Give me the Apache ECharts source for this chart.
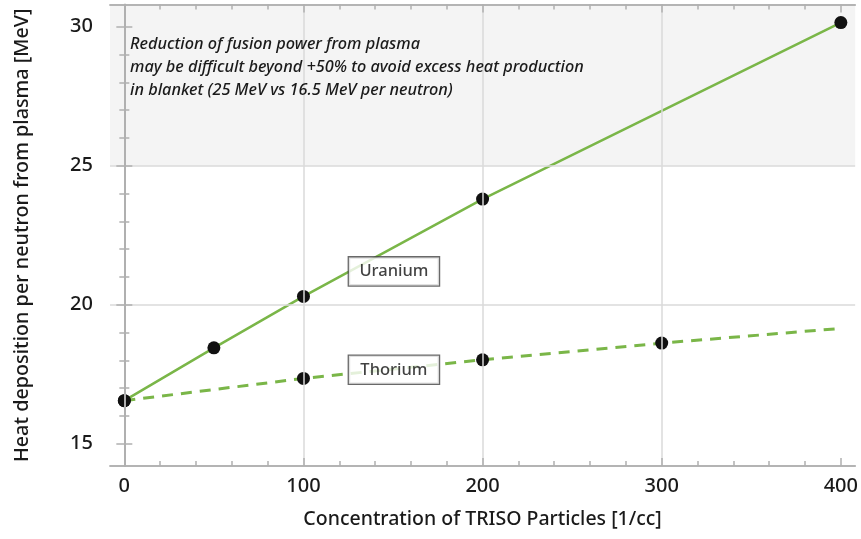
<!DOCTYPE html>
<html>
<head>
<meta charset="utf-8">
<script src="https://cdn.jsdelivr.net/npm/echarts@6/dist/echarts.min.js"></script>
<style>html,body{margin:0;padding:0;background:#fff}#c{width:861px;height:539px}</style>
</head>
<body>
<div id="c"></div>
<script>
const uraniumX = [0, 50, 100, 200, 400];
const uraniumY = [16.55, 18.45, 20.3, 23.8, 30.15];
const thoriumX = [0, 100, 200, 300, 400];
const thoriumY = [16.55, 17.35, 18.02, 18.62, 19.15];
const thoriumMarked = [true, true, true, true, false];
const xMajor = [0, 100, 200, 300, 400];
const xMinor = [20, 40, 60, 80, 120, 140, 160, 180, 220, 240, 260, 280, 320, 340, 360, 380];
const yMajor = [15, 20, 25, 30];
const yMinor = [16, 17, 18, 19, 21, 22, 23, 24, 26, 27, 28, 29];
const xGrid = [100, 200, 300];
const yGrid = [20, 25];
const bandFrom = 25;
const seriesLabels = [[150.5, 21.2, 'Uranium'], [150.5, 17.66, 'Thorium']];
const note = ['Reduction of fusion power from plasma',
  'may be difficult beyond +50% to avoid excess heat production',
  'in blanket (25 MeV vs 16.5 MeV per neutron)'];

const FONT = 'Noto Sans';
const TXT = '#1a1a1a';
const XMIN = -8, XMAX = 408, YMIN = 14.2, YMAX = 30.8;
const axisColor = '#b0b0b0';

function xAx(pos, ticks, len, labels) {
  return {
    type: 'value', position: pos, min: XMIN, max: XMAX, z: 5,
    axisLine: {show: true, lineStyle: {color: axisColor, width: 1.5}},
    axisTick: {show: true, inside: true, length: len, customValues: ticks, lineStyle: {color: axisColor, width: 1.5}},
    axisLabel: labels ? {show: true, customValues: ticks, color: TXT, fontSize: 20, fontWeight: 500, fontFamily: FONT, margin: 10} : {show: false},
    splitLine: {show: false}
  };
}
function yAx(pos, ticks, len, labels) {
  return {
    type: 'value', position: pos, min: YMIN, max: YMAX, z: 5,
    axisLine: {show: true, lineStyle: {color: axisColor, width: 1.5}},
    axisTick: {show: true, inside: true, length: len, customValues: ticks, lineStyle: {color: axisColor, width: 1.5}},
    axisLabel: labels ? {show: true, customValues: ticks, color: TXT, fontSize: 20, fontWeight: 500, fontFamily: FONT, margin: 17} : {show: false},
    splitLine: {show: false}
  };
}

const xAxes = [xAx('bottom', xMajor, 8, true), xAx('bottom', xMinor, 5, false), xAx('top', xMajor, 8, false), xAx('top', xMinor, 5, false)];
xAxes[0].name = 'Concentration of TRISO Particles [1/cc]';
xAxes[0].nameLocation = 'middle';
xAxes[0].nameGap = 43;
xAxes[0].nameTextStyle = {fontSize: 19.5, fontWeight: 500, color: TXT, fontFamily: FONT};
const yAxes = [yAx('left', yMajor, 8, true), yAx('left', yMinor, 5, false), yAx('right', yMajor, 8, false), yAx('right', yMinor, 5, false)];
yAxes[0].name = 'Heat deposition per neutron from plasma [MeV]';
yAxes[0].nameLocation = 'middle';
yAxes[0].nameGap = 78;
yAxes[0].nameTextStyle = {fontSize: 19.8, fontWeight: 500, color: TXT, fontFamily: FONT};

const green = '#7ab648';
const chart = echarts.init(document.getElementById('c'), null, {renderer: 'canvas'});
chart.setOption({
  animation: false,
  backgroundColor: '#fff',
  grid: {left: 110, right: 5, top: 4.5, bottom: 73, containLabel: false},
  xAxis: xAxes,
  yAxis: yAxes,
  graphic: [{
    type: 'text', left: 130, top: 33, z: 10,
    style: {text: note.join('\n'), font: 'italic 500 16.3px "' + FONT + '"', fill: TXT, lineHeight: 23}
  }],
  series: [
    {type: 'line', name: 'band', data: [], z: 1, silent: true,
      markArea: {silent: true, itemStyle: {color: '#f4f4f4'}, data: [[{yAxis: bandFrom, xAxis: XMIN}, {yAxis: YMAX, xAxis: XMAX}]]}},
    {type: 'line', name: 'grid', data: [], z: 2, silent: true,
      markLine: {silent: true, symbol: 'none', label: {show: false}, lineStyle: {color: '#dadada', type: 'solid', width: 1.5},
        data: xGrid.map(v => ({xAxis: v})).concat(yGrid.map(v => ({yAxis: v})))}},
    {type: 'line', name: 'Uranium', z: 3,
      data: uraniumX.map((x, i) => [x, uraniumY[i]]),
      symbol: 'circle', symbolSize: 13, itemStyle: {color: '#111'},
      lineStyle: {color: green, width: 2.5}},
    {type: 'line', name: 'Thorium', z: 3,
      data: thoriumX.map((x, i) => thoriumMarked[i] ? [x, thoriumY[i]] : {value: [x, thoriumY[i]], symbol: 'none'}),
      symbol: 'circle', symbolSize: 13, itemStyle: {color: '#111'},
      lineStyle: {color: green, width: 3, type: [11, 8]}},
    {type: 'scatter', name: 'labels', z: 6, symbolSize: 0, silent: true,
      data: seriesLabels,
      label: {show: true, position: 'inside', formatter: p => p.value[2], color: '#111', fontSize: 16.5, fontWeight: 500, fontFamily: FONT,
        backgroundColor: '#fff', borderColor: '#444', borderWidth: 1.3, width: 90, height: 20, lineHeight: 20, padding: [4, 0], align: 'center'}}
  ]
});
</script>
</body>
</html>
